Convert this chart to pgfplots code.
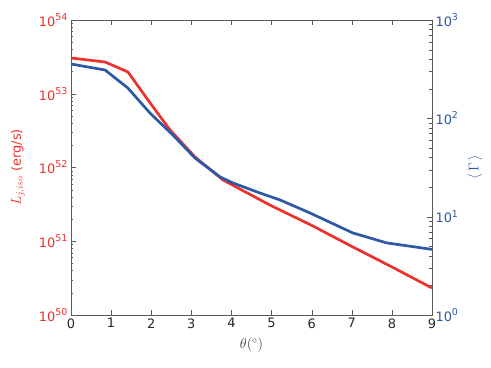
\documentclass[border=0pt]{standalone}
\usepackage{fontspec}
\setmainfont{DejaVu Sans}
\usepackage{pgfplots}
\pgfplotsset{compat=1.18}
\definecolor{lred}{RGB}{236,50,46}
\definecolor{lblue}{RGB}{44,88,166}
\definecolor{frame}{RGB}{90,90,90}
\newcommand\tp[1]{10\raisebox{0.45em}{\fontsize{9.5}{10}\selectfont #1}}
\begin{document}
\begin{tikzpicture}
\useasboundingbox (-71bp,-53bp) rectangle (420bp,315bp);
\begin{axis}[
  at={(0,0)}, anchor=south west,
  scale only axis, width=361bp, height=295bp,
  xmin=0, xmax=9, xtick={0,...,9},
  ymode=log, ymin=1e50, ymax=1e54,
  ytick={1e50,1e51,1e52,1e53,1e54},
  yticklabels={\tp{50},\tp{51},\tp{52},\tp{53},\tp{54}},
  ytick pos=left, xtick pos=both,
  axis line style={frame}, tick style={frame},
  major tick length=5bp, minor tick length=2.5bp,
  /pgf/number format/assume math mode=true,
  xticklabel style={font=\fontsize{13}{14}\selectfont, color=black!85},
  yticklabel style={font=\fontsize{13}{14}\selectfont, color=lred},
  ylabel={$L_{j,iso}$ {\fontsize{13}{14}\selectfont(erg/s)}},
  ylabel style={at={(axis description cs:-0.147,0.5)}, anchor=center, color=lred, font=\fontsize{14.4}{16}\selectfont},
  xlabel={$\theta(^\circ)$},
  xlabel style={at={(axis description cs:0.5,-0.102)}, anchor=center, color=black!75, font=\fontsize{14.4}{16}\selectfont},
]
\addplot[lred, line width=2.7bp] coordinates {
  (0,3.05e53) (0.85,2.69e53) (1.42,1.97e53) (1.92,8.2e52) (2.47,3.22e52)
  (3.09,1.39e52) (3.79,6.76e51) (4.96,3.09e51) (6,1.64e51) (7,8.5e50)
  (8,4.48e50) (9,2.32e50)
};
\end{axis}
\begin{axis}[
  at={(0,0)}, anchor=south west,
  scale only axis, width=361bp, height=295bp,
  xmin=0, xmax=9, hide x axis,
  axis y line*=right,
  ymode=log, ymin=1, ymax=1e3,
  ytick={1,10,100,1000},
  yticklabels={\tp{0},\tp{1},\tp{2},\tp{3}},
  axis line style={frame, -}, tick style={frame},
  major tick length=5bp, minor tick length=2.5bp,
  yticklabel style={font=\fontsize{13}{14}\selectfont, color=lblue},
  ylabel={$\langle\,\Gamma\,\rangle$},
  ylabel style={at={(axis description cs:1.119,0.5)}, anchor=center, color=lblue, font=\fontsize{14.4}{16}\selectfont},
]
\addplot[lblue, line width=2.7bp] coordinates {
  (0,357) (0.85,310) (1.42,203) (1.97,113) (2.54,67.7) (3.09,39.5)
  (3.72,25.3) (4.04,22) (4.71,17.4) (5.21,14.8) (5.96,10.9) (6.5,8.6)
  (7.03,6.82) (7.88,5.4) (8.4,5.04) (9,4.65)
};
\end{axis}
\end{tikzpicture}
\end{document}
